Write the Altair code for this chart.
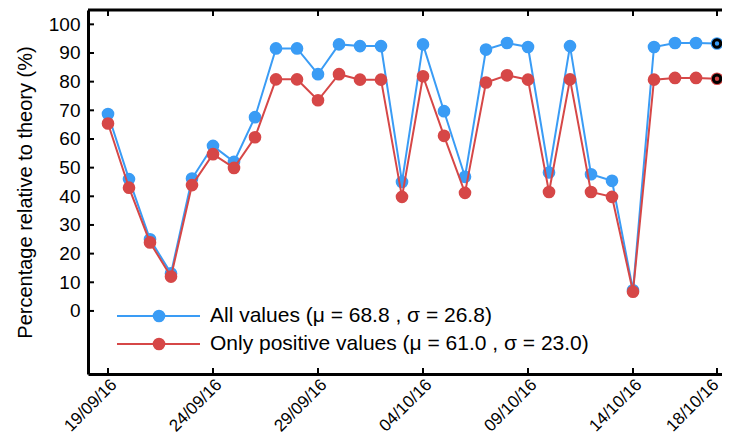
import altair as alt
import pandas as pd

# ---- data ----
dates = pd.date_range("2016-09-19", "2016-10-18", freq="D").strftime("%Y-%m-%d").tolist()

all_values = [68.7, 46.0, 25.0, 13.1, 46.2, 57.6, 52.0, 67.6, 91.6, 91.6,
              82.6, 93.0, 92.4, 92.4, 45.0, 93.0, 69.7, 46.8, 91.2, 93.5,
              92.1, 48.3, 92.4, 47.7, 45.4, 7.2, 92.1, 93.5, 93.5, 93.3]
positive_values = [65.4, 43.0, 23.9, 12.0, 43.9, 54.7, 49.9, 60.6, 80.8, 80.8,
                   73.5, 82.6, 80.7, 80.7, 39.8, 81.9, 61.1, 41.2, 79.7, 82.2,
                   80.7, 41.5, 80.8, 41.5, 39.8, 6.7, 80.7, 81.3, 81.3, 81.0]

series_names = ["All values (\u03bc = 68.8 , \u03c3 = 26.8)",
                "Only positive values (\u03bc = 61.0 , \u03c3 = 23.0)"]
series_colors = ["#3a9cf5", "#d64747"]

x_tick_dates = ["2016-09-19", "2016-09-24", "2016-09-29", "2016-10-04",
                "2016-10-09", "2016-10-14", "2016-10-18"]
y_ticks = [0, 10, 20, 30, 40, 50, 60, 70, 80, 90, 100]

# ---- layout ----
W, H = 634, 364
FONT = "Liberation Sans"


def ms(s):
    return int(pd.Timestamp(s, tz="UTC").value // 10**6)


start = pd.Timestamp("2016-09-19", tz="UTC") - pd.Timedelta(days=20 / 21)
end = start + pd.Timedelta(days=W / 21)
x_scale = alt.Scale(type="utc", domain=[int(start.value // 10**6), int(end.value // 10**6)])
y_scale = alt.Scale(domain=[-22, 105])

x_axis = alt.Axis(values=[ms(d) for d in x_tick_dates],
                  labelExpr="utcFormat(datum.value, '%d/%m/%y')",
                  grid=False, ticks=False, domainWidth=3, domainColor="black",
                  labelAngle=-45, labelAlign="right", labelBaseline="top",
                  labelPadding=2, labelFontSize=17, labelFont=FONT,
                  labelOffset={"condition": {"test": "datum.value > %d" % ms("2016-10-17"),
                                             "value": -7}, "value": 0},
                  labelColor="black", title=None)
y_axis = alt.Axis(values=y_ticks, grid=False, ticks=False, domainWidth=3,
                  domainColor="black", labelPadding=8, labelFontSize=19,
                  labelFont=FONT, labelColor="black",
                  title="Percentage relative to theory (%)", titleFont=FONT,
                  titleFontSize=20, titleFontWeight="normal", titleColor="black",
                  titlePadding=13)


def X(field):
    return alt.X(field, scale=x_scale, axis=x_axis)


def Y(field):
    return alt.Y(field, scale=y_scale, axis=y_axis)


layers = []

# frame & ticks
tick_df = pd.DataFrame({"date": x_tick_dates})
ytick_df = pd.DataFrame({"value": y_ticks})
layers.append(
    alt.Chart(tick_df).mark_rule(color="black", strokeWidth=2).encode(
        x=X("date:T"), y=alt.value(H), y2=alt.value(H - 6))
)
layers.append(
    alt.Chart(tick_df).mark_rule(color="black", strokeWidth=2).encode(
        x=X("date:T"), y=alt.value(0), y2=alt.value(6))
)
layers.append(
    alt.Chart(ytick_df).mark_rule(color="black", strokeWidth=2).encode(
        y=Y("value:Q"), x=alt.value(0), x2=alt.value(6))
)
layers.append(
    alt.Chart(pd.DataFrame({"a": [0]})).mark_rule(color="black", strokeWidth=3).encode(
        x=alt.value(0), x2=alt.value(W), y=alt.value(0))
)

# series
for name, vals, col in zip(series_names, [all_values, positive_values], series_colors):
    df = pd.DataFrame({"date": dates, "value": vals})
    base = alt.Chart(df).encode(x=X("date:T"), y=Y("value:Q"))
    layers.append(base.mark_line(color=col, strokeWidth=2))
    layers.append(base.mark_point(filled=True, size=160, color=col, opacity=1))
    last = alt.Chart(df.tail(1)).encode(x=X("date:T"), y=Y("value:Q"))
    layers.append(last.mark_point(filled=True, size=55, fill=col, stroke="black",
                                  strokeWidth=3, opacity=1))

# legend
legend_y = [306, 334]
for name, col, ly in zip(series_names, series_colors, legend_y):
    ldf = pd.DataFrame({"label": [name]})
    lb = alt.Chart(ldf)
    layers.append(lb.mark_rule(color=col, strokeWidth=2).encode(
        x=alt.value(29), x2=alt.value(112), y=alt.value(ly)))
    layers.append(lb.mark_point(filled=True, size=160, color=col, opacity=1).encode(
        x=alt.value(71), y=alt.value(ly)))
    layers.append(lb.mark_text(align="left", baseline="middle", fontSize=21,
                               font=FONT, color="black").encode(
        x=alt.value(122), y=alt.value(ly), text="label:N"))

chart = alt.layer(*layers).properties(
    width=W, height=H, autosize="none",
    padding={"left": 80, "top": 2, "right": 0, "bottom": 62},
).configure_view(stroke=None).configure(background="white")

chart.save("out.html", embed_options={"renderer": "svg", "actions": False})
